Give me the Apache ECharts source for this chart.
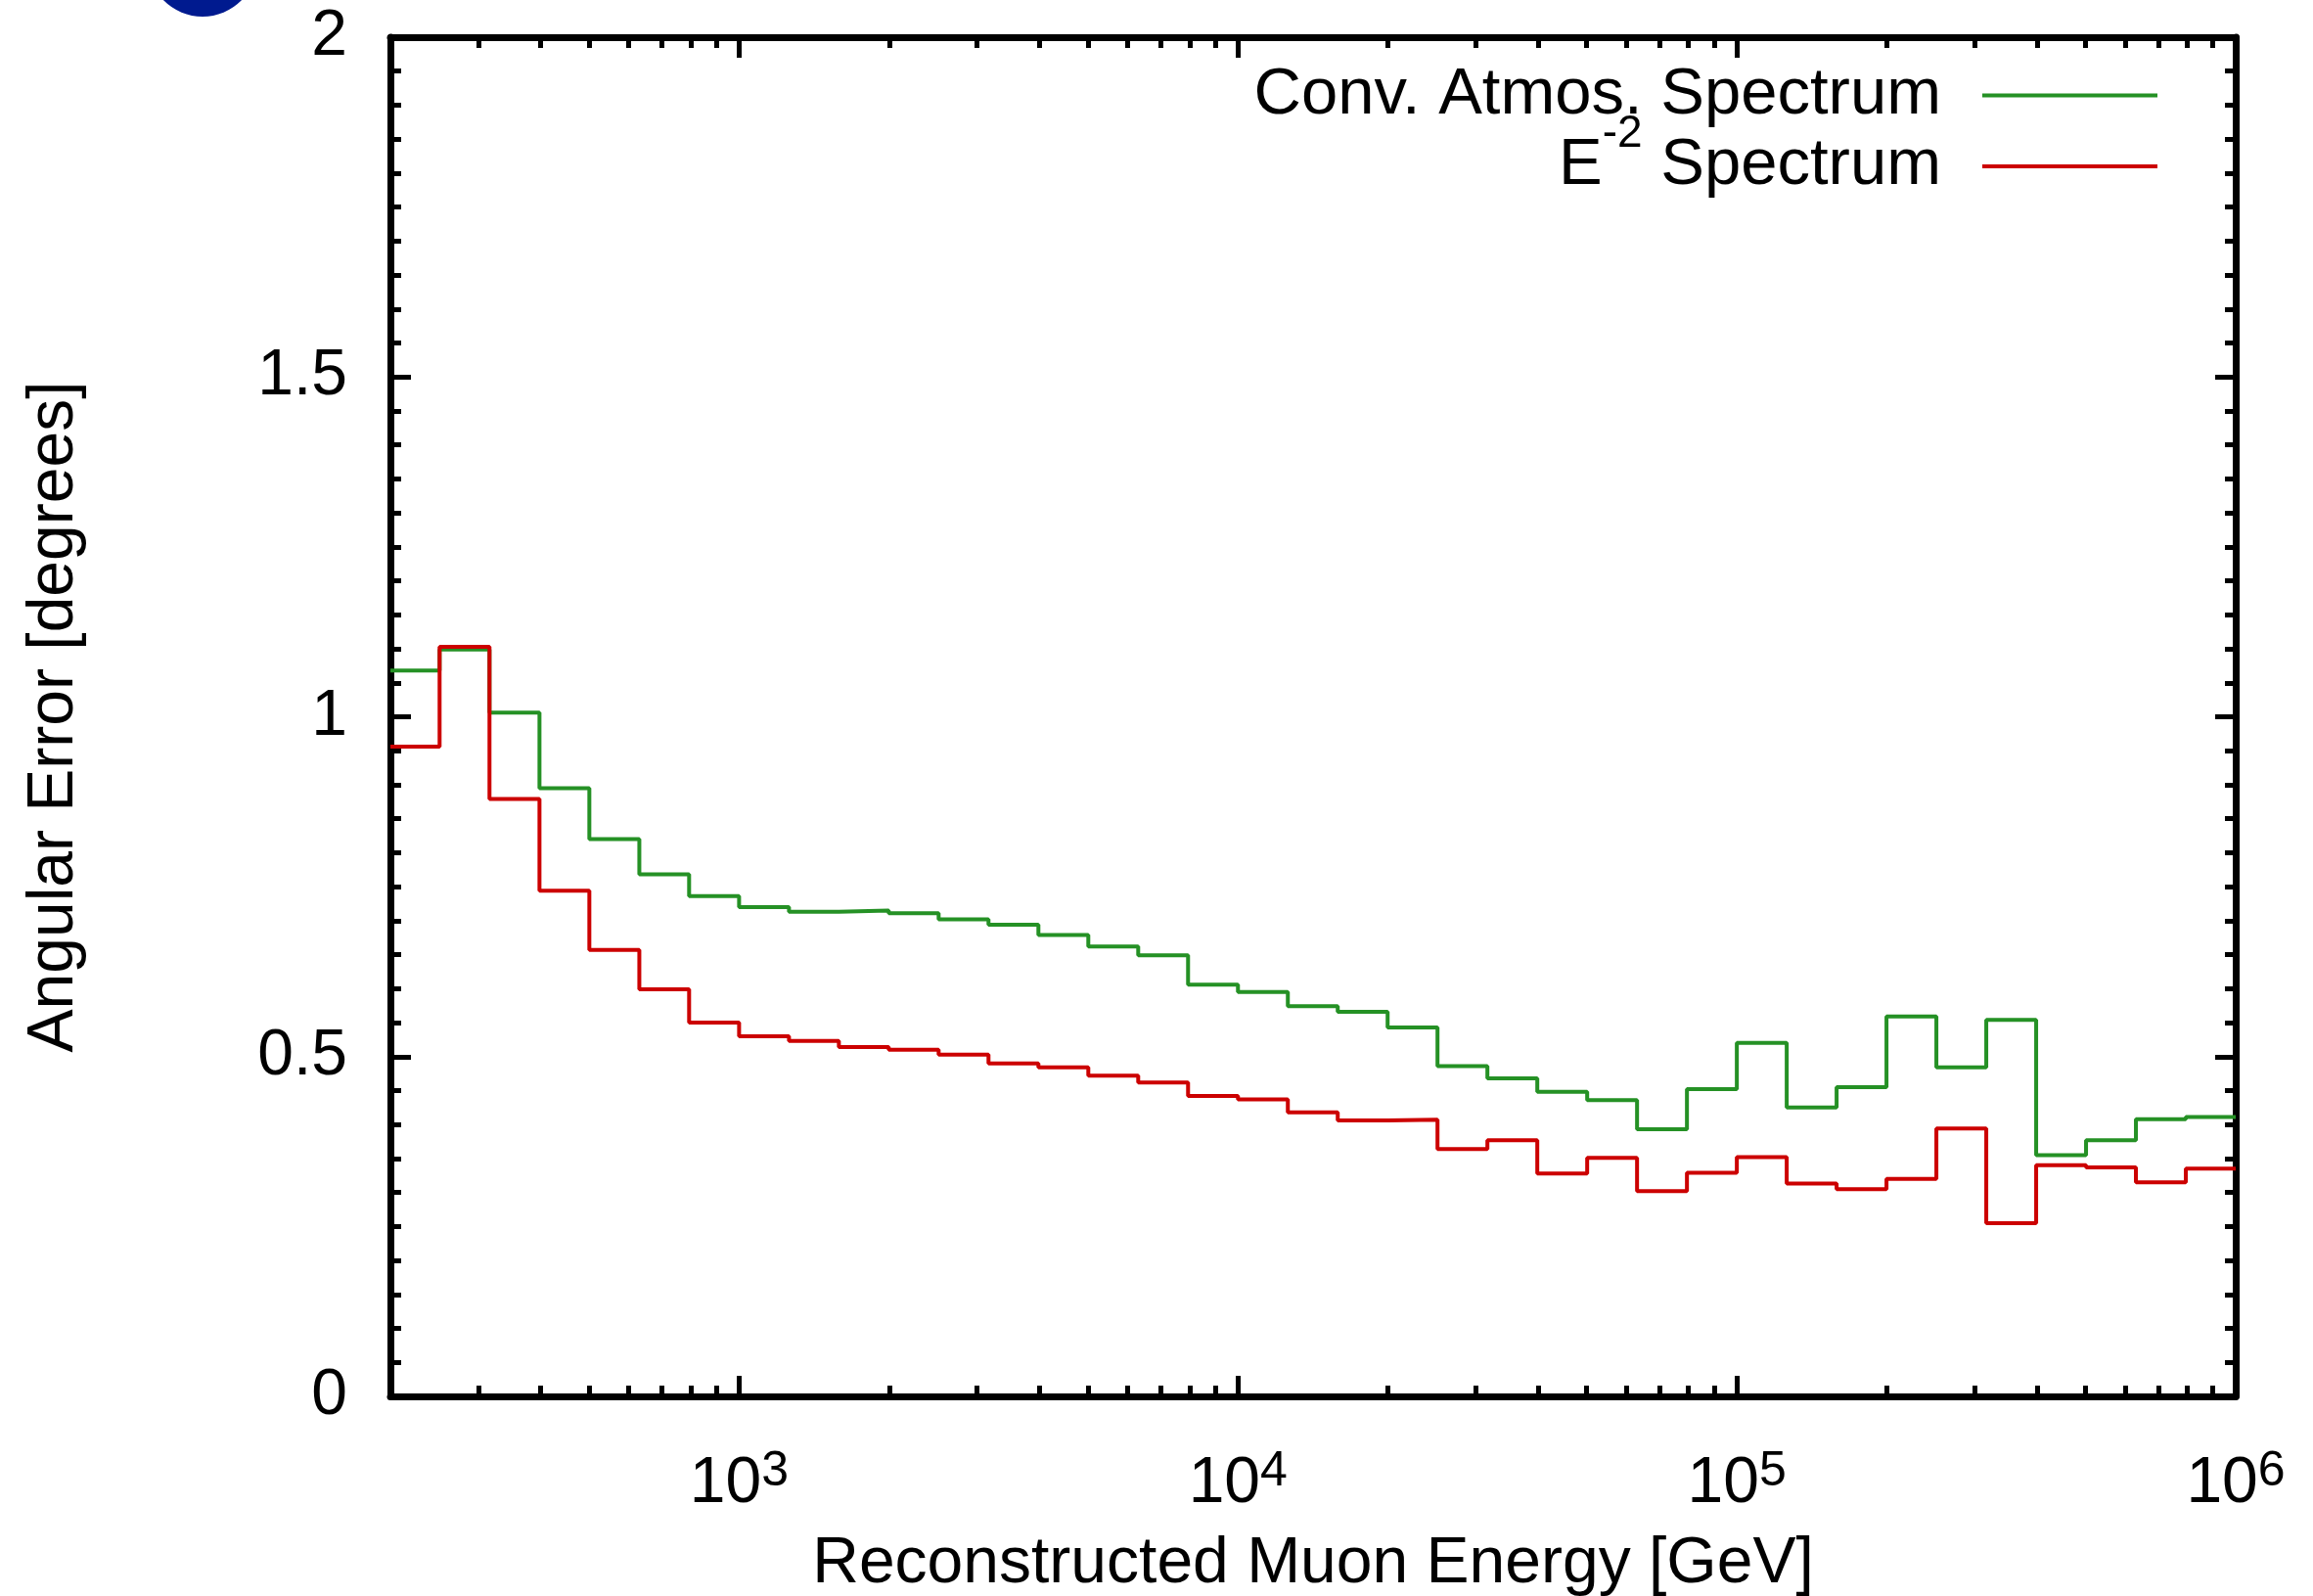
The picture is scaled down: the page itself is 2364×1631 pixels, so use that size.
<!DOCTYPE html>
<html>
<head>
<meta charset="utf-8">
<script src="https://cdn.jsdelivr.net/npm/echarts@6/dist/echarts.min.js"></script>
<style>
  html, body { margin: 0; padding: 0; background: #fff; }
  #chart { width: 2364px; height: 1631px; }
</style>
</head>
<body>
<div id="chart"></div>
<script>
// bin edges [GeV], 0.1 decade wide
const binEdges = [200, 251, 316, 398, 501, 631, 794,
  1000, 1259, 1585, 1995, 2512, 3162, 3981, 5012, 6310, 7943,
  10000, 12589, 15849, 19953, 25119, 31623, 39811, 50119, 63096, 79433,
  100000, 125893, 158489, 199526, 251189, 316228, 398107, 501187, 630957, 794328,
  1000000]

// angular error per bin [degrees]
const convAtmos = [1.068, 1.099, 1.006, 0.895, 0.820, 0.768, 0.736, 0.720, 0.713, 0.715,
  0.711, 0.702, 0.694, 0.679, 0.662, 0.649, 0.606, 0.595, 0.574, 0.566,
  0.543, 0.486, 0.468, 0.448, 0.436, 0.393, 0.452, 0.520, 0.425, 0.455,
  0.559, 0.484, 0.554, 0.355, 0.377, 0.408, 0.411]
const eMinus2 = [0.956, 1.103, 0.879, 0.744, 0.657, 0.599, 0.550, 0.530, 0.523, 0.514,
  0.510, 0.503, 0.490, 0.484, 0.472, 0.462, 0.442, 0.437, 0.418, 0.406,
  0.407, 0.364, 0.377, 0.328, 0.351, 0.302, 0.329, 0.352, 0.313, 0.305,
  0.320, 0.394, 0.255, 0.340, 0.337, 0.315, 0.335]

const seriesNames = ['Conv. Atmos. Spectrum', 'E-2 Spectrum']
const decadeTicks = [1000, 10000, 100000, 1000000]
const minorTicks = [200, 300, 400, 500, 600, 700, 800, 900,
  2000, 3000, 4000, 5000, 6000, 7000, 8000, 9000,
  20000, 30000, 40000, 50000, 60000, 70000, 80000, 90000,
  200000, 300000, 400000, 500000, 600000, 700000, 800000, 900000]

const FONT = 'Liberation Sans'
const FS = 66

// histogram -> step line points (left edges + closing right edge)
const toSteps = (vals) => {
  const pts = vals.map((v, i) => [binEdges[i], v])
  pts.push([binEdges[binEdges.length - 1], vals[vals.length - 1]])
  return pts
}

const chart = echarts.init(document.getElementById('chart'), null, { renderer: 'canvas' })

const frameLine = { show: true, onZero: false, lineStyle: { color: '#000', width: 7 } }
const majorTick = (vals) => ({ show: true, inside: true, length: 21, customValues: vals, lineStyle: { color: '#000', width: 5 } })
const minorTick = (vals) => ({ show: true, inside: true, length: 11, customValues: vals, lineStyle: { color: '#000', width: 5 } })

const xBase = { type: 'log', logBase: 10, min: 200, max: 1000000, gridIndex: 0, splitLine: { show: false } }

chart.setOption({
  animation: false,
  backgroundColor: '#fff',
  textStyle: { fontFamily: FONT },
  grid: { left: 399, right: 79, top: 38, bottom: 204, containLabel: false, outerBoundsMode: 'none' },
  graphic: [
    { type: 'circle', shape: { cx: 207, cy: -39, r: 56 }, style: { fill: '#001a8f' } }
  ],
  legend: {
    show: true,
    orient: 'vertical',
    align: 'right',
    left: 'auto',
    right: 154,
    top: 59,
    bottom: 'auto',
    itemWidth: 179,
    itemHeight: 4,
    itemGap: -17,
    icon: 'rect',
    data: seriesNames,
    formatter: (name) => name === 'E-2 Spectrum'
      ? '{t|E}{sup|-2}{t| Spectrum}{gap|}'
      : '{t|' + name + '}{gap|}',
    textStyle: {
      color: '#000',
      rich: {
        t: { fontFamily: FONT, fontSize: 67, lineHeight: 64, color: '#000' },
        sup: { fontFamily: FONT, fontSize: 46, lineHeight: 20, padding: [0, 0, 66, 0], color: '#000' },
        gap: { width: 37 }
      }
    }
  },
  xAxis: [
    Object.assign({}, xBase, {
      position: 'bottom',
      axisLine: frameLine,
      axisTick: majorTick(decadeTicks),
      axisLabel: {
        show: true,
        margin: 57,
        customValues: decadeTicks,
        formatter: (v) => '{b|10}{sup|' + Math.round(Math.log10(v)) + '}',
        rich: {
          b: { fontFamily: FONT, fontSize: FS, lineHeight: 66, color: '#000' },
          sup: { fontFamily: FONT, fontSize: 50, lineHeight: 20, color: '#000', padding: [0, 0, 25, 0] }
        }
      },
      name: 'Reconstructed Muon Energy [GeV]',
      nameLocation: 'middle',
      nameGap: 139,
      nameMoveOverlap: false,
      nameTextStyle: { fontFamily: FONT, fontSize: FS, color: '#000' }
    }),
    Object.assign({}, xBase, {
      position: 'bottom',
      axisLine: { show: false, onZero: false },
      axisTick: minorTick(minorTicks),
      axisLabel: { show: false }
    }),
    Object.assign({}, xBase, {
      position: 'top',
      axisLine: frameLine,
      axisTick: majorTick(decadeTicks),
      axisLabel: { show: false }
    }),
    Object.assign({}, xBase, {
      position: 'top',
      axisLine: { show: false, onZero: false },
      axisTick: minorTick(minorTicks),
      axisLabel: { show: false }
    })
  ],
  yAxis: [
    {
      type: 'value',
      position: 'left',
      min: 0,
      max: 2,
      interval: 0.5,
      axisLine: frameLine,
      axisTick: { show: true, inside: true, length: 21, lineStyle: { color: '#000', width: 5 } },
      minorTick: { show: true, splitNumber: 10, length: 11, lineStyle: { color: '#000', width: 5 } },
      splitLine: { show: false },
      axisLabel: { show: true, margin: 44, color: '#000', fontFamily: FONT, fontSize: FS },
      name: 'Angular Error [degrees]',
      nameLocation: 'middle',
      nameGap: 310,
      nameRotate: 90,
      nameMoveOverlap: false,
      nameTextStyle: { fontFamily: FONT, fontSize: FS, color: '#000' }
    },
    {
      type: 'value',
      position: 'right',
      min: 0,
      max: 2,
      interval: 0.5,
      axisLine: frameLine,
      axisTick: { show: true, inside: true, length: 21, lineStyle: { color: '#000', width: 5 } },
      minorTick: { show: true, splitNumber: 10, length: 11, lineStyle: { color: '#000', width: 5 } },
      splitLine: { show: false },
      axisLabel: { show: false }
    }
  ],
  series: [
    {
      name: seriesNames[0],
      type: 'line',
      step: 'end',
      xAxisIndex: 0,
      yAxisIndex: 0,
      symbol: 'none',
      color: '#259125',
      lineStyle: { color: '#259125', width: 4 },
      data: toSteps(convAtmos),
      z: 3
    },
    {
      name: seriesNames[1],
      type: 'line',
      step: 'end',
      xAxisIndex: 0,
      yAxisIndex: 0,
      symbol: 'none',
      color: '#cc0000',
      lineStyle: { color: '#cc0000', width: 4 },
      data: toSteps(eMinus2),
      z: 4
    }
  ]
})
</script>
</body>
</html>
